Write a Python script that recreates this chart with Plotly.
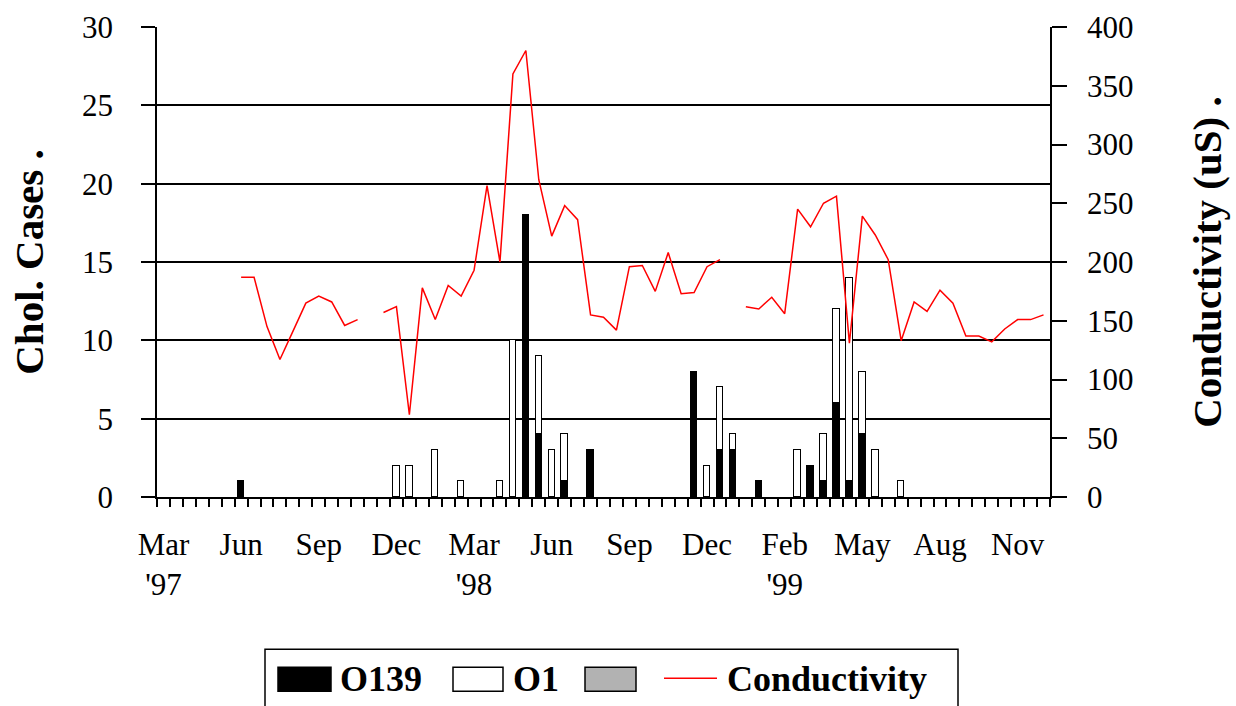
import plotly.graph_objects as go

# ---------------- data ----------------
# 69 semi-monthly sampling periods, Mar 1997 - Nov 1999 (index 0..68)
periods = list(range(69))

tick_positions = [0, 6, 12, 18, 24, 30, 36, 42, 48, 54, 60, 66]
tick_labels = ["Mar<br>'97", "Jun", "Sep", "Dec", "Mar<br>'98", "Jun", "Sep",
               "Dec", "Feb<br>'99", "May", "Aug", "Nov"]

o139 = [0, 0, 0, 0, 0, 0, 1, 0, 0, 0, 0, 0, 0, 0, 0, 0, 0, 0, 0, 0,
        0, 0, 0, 0, 0, 0, 0, 0, 18, 4, 0, 1, 0, 3, 0, 0, 0, 0, 0, 0,
        0, 8, 0, 3, 3, 0, 1, 0, 0, 0, 2, 1, 6, 1, 4, 0, 0, 0, 0, 0,
        0, 0, 0, 0, 0, 0, 0, 0, 0]

o1 = [0, 0, 0, 0, 0, 0, 0, 0, 0, 0, 0, 0, 0, 0, 0, 0, 0, 0, 2, 2,
      0, 3, 0, 1, 0, 0, 1, 10, 0, 5, 3, 3, 0, 0, 0, 0, 0, 0, 0, 0,
      0, 0, 2, 4, 1, 0, 0, 0, 0, 3, 0, 3, 6, 13, 4, 3, 0, 1, 0, 0,
      0, 0, 0, 0, 0, 0, 0, 0, 0]

other = [0] * 69

conductivity = [None, None, None, None, None, None, 187, 187, 145, 117,
                141, 165, 171, 166, 146, 151, None, 157, 162, 70,
                178, 151, 180, 171, 193, 265, 200, 360, 380, 270,
                222, 248, 236, 155, 153, 142, 196, 197, 175, 208,
                173, 174, 196, 202, None, 162, 160, 170, 156, 245,
                230, 250, 256, 131, 239, 223, 202, 133, 166, 158,
                176, 165, 137, 137, 132, 143, 151, 151, 155]

# ---------------- figure ----------------
FONT = "Liberation Serif"
W, H = 1236, 706
L, R, T, B = 157, 186, 27, 208.5
PW, PH = W - L - R, H - T - B


def px(x):
    return (x - L) / PW


def py(y):
    return (H - B - y) / PH


def nz(v):
    return [None if a == 0 else a for a in v]


fig = go.Figure()
fig.add_trace(go.Bar(x=periods, y=nz(o139), name="O139", width=0.5,
                     marker=dict(color="black", line=dict(color="black", width=1.2)),
                     showlegend=False))
fig.add_trace(go.Bar(x=periods, y=nz(o1), name="O1", width=0.5,
                     marker=dict(color="white", line=dict(color="black", width=1.2)),
                     showlegend=False))
fig.add_trace(go.Bar(x=periods, y=nz(other), name=" ", width=0.5,
                     marker=dict(color="#b2b2b2", line=dict(color="black", width=1.2)),
                     showlegend=False))
fig.add_trace(go.Scatter(x=periods, y=conductivity, name="Conductivity", yaxis="y2",
                         mode="lines", line=dict(color="#ff0000", width=1.5),
                         connectgaps=False, showlegend=False))

fig.update_layout(
    width=W, height=H,
    margin=dict(l=L, r=R, t=T, b=B, pad=0, autoexpand=False),
    paper_bgcolor="white", plot_bgcolor="white",
    barmode="stack", bargap=0,
    font=dict(family=FONT, color="black", size=31),
    xaxis=dict(
        range=[-0.5, 68.5], tickmode="array", tickvals=tick_positions,
        ticktext=tick_labels, ticks="", showgrid=False, zeroline=False,
        showline=True, linecolor="black", linewidth=1.5, automargin=False,
        tickfont=dict(family=FONT, size=31), ticklabelstandoff=19,
        minor=dict(tick0=-0.5, dtick=1, ticks="outside", ticklen=8,
                   tickwidth=1.5, tickcolor="black", showgrid=False),
    ),
    yaxis=dict(
        range=[0, 30], dtick=5, ticks="outside", ticklen=14, tickwidth=1.5,
        tickcolor="black", showline=True, linecolor="black", linewidth=1.5,
        showgrid=True, gridcolor="#000000", gridwidth=1.5, zeroline=False,
        automargin=False,
        tickfont=dict(family=FONT, size=31), ticklabelstandoff=22,
        title=dict(text="<b>Chol. Cases .</b>", font=dict(family=FONT, size=41),
                   standoff=26),
    ),
    yaxis2=dict(
        range=[0, 400], dtick=50, overlaying="y", side="right",
        ticks="outside", ticklen=15, tickwidth=1.5, tickcolor="black",
        showline=True, linecolor="black", linewidth=1.5, showgrid=False,
        zeroline=False, automargin=False,
        tickfont=dict(family=FONT, size=31), ticklabelstandoff=14,
        title=dict(text="<b>Conductivity (uS) .</b>", font=dict(family=FONT, size=41),
                   standoff=60),
    ),
)

# ---------------- legend box (drawn) ----------------
shapes = []
# border (open at the bottom edge of the picture)
shapes.append(dict(type="path", xref="paper", yref="paper",
                   path=f"M {px(265)},{py(712)} L {px(265)},{py(650)} L {px(958)},{py(650)} L {px(958)},{py(712)}",
                   line=dict(color="black", width=1.5)))
for x0, x1, col in [(278, 331, "black"), (453, 503, "white"), (585, 636, "#b2b2b2")]:
    shapes.append(dict(type="rect", xref="paper", yref="paper",
                       x0=px(x0), x1=px(x1), y0=py(692), y1=py(668),
                       fillcolor=col, line=dict(color="black", width=1.5)))
shapes.append(dict(type="line", xref="paper", yref="paper",
                   x0=px(664), x1=px(717), y0=py(679), y1=py(679),
                   line=dict(color="#ff0000", width=1.5)))

annotations = []
for x0, txt in [(338, "O139"), (511, "O1"), (725, "Conductivity")]:
    annotations.append(dict(xref="paper", yref="paper", x=px(x0), y=py(680),
                            xanchor="left", yanchor="middle", showarrow=False,
                            text=f"<b>{txt}</b>",
                            font=dict(family=FONT, size=36, color="black")))

fig.update_layout(shapes=shapes, annotations=annotations)

fig.write_html("out.html", config={"displayModeBar": False},
               post_script="document.body.style.margin='0px';document.body.style.overflow='hidden';")
